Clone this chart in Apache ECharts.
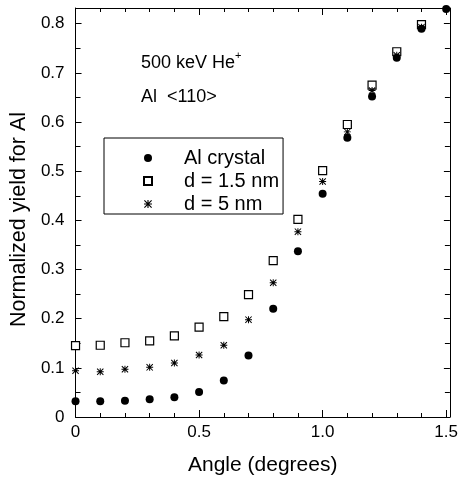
<!DOCTYPE html>
<html>
<head>
<meta charset="utf-8">
<script src="https://cdn.jsdelivr.net/npm/echarts@6/dist/echarts.min.js"></script>
<style>
  html, body { margin: 0; padding: 0; background: #fff; }
  #chart { width: 461px; height: 481px; }
</style>
</head>
<body>
<div id="chart"></div>
<script>
const angles = [0, 0.1, 0.2, 0.3, 0.4, 0.5, 0.6, 0.7, 0.8, 0.9, 1.0, 1.1, 1.2, 1.3, 1.4, 1.5]
const alCrystal = [0.032, 0.032, 0.033, 0.036, 0.040, 0.051, 0.074, 0.125, 0.220, 0.337, 0.454, 0.568, 0.652, 0.731, 0.790, 0.830]
const d15 = [0.145, 0.146, 0.151, 0.155, 0.165, 0.183, 0.204, 0.249, 0.318, 0.402, 0.501, 0.595, 0.675, 0.743, 0.798]
const d5 = [0.094, 0.092, 0.097, 0.101, 0.110, 0.126, 0.146, 0.198, 0.273, 0.377, 0.479, 0.580, 0.664, 0.736, 0.793]
const seriesNames = ['Al crystal', 'd = 1.5 nm', 'd = 5 nm']

const font = 'Liberation Sans'
// asterisk marker: vertical, horizontal and two diagonal bars
const asterisk = 'path://M4.3,0L5.7,0L5.7,10L4.3,10Z M0,4.3L10,4.3L10,5.7L0,5.7Z M0,1L1,0L10,9L9,10Z M9,0L10,1L1,10L0,9Z'

function pairs (ys) {
  return ys.map((y, i) => [angles[i], y])
}

const labelFmt = v => v === 0 ? '0' : v.toFixed(1)

const xBase = {
  type: 'value',
  min: 0,
  max: 1.515,
  interval: 0.5,
  axisLine: { show: true, onZero: false, lineStyle: { color: '#000', width: 1 } },
  axisTick: { inside: true, length: 7, lineStyle: { color: '#000' } },
  minorTick: { show: true, splitNumber: 5, length: 4, lineStyle: { color: '#000' } },
  splitLine: { show: false }
}
const yBase = {
  type: 'value',
  min: 0,
  max: 0.832,
  interval: 0.1,
  axisLine: { show: true, onZero: false, lineStyle: { color: '#000', width: 1 } },
  axisTick: { inside: true, length: 6, lineStyle: { color: '#000' } },
  minorTick: { show: true, splitNumber: 2, length: 5, lineStyle: { color: '#000' } },
  splitLine: { show: false }
}

const chart = echarts.init(document.getElementById('chart'))
chart.setOption({
  animation: false,
  textStyle: { fontFamily: font },
  grid: { left: 75, top: 8, width: 380, height: 413 },
  xAxis: [
    Object.assign({}, xBase, {
      position: 'bottom',
      name: 'Angle (degrees)',
      nameLocation: 'middle',
      nameGap: 38,
      nameTextStyle: { fontSize: 21, color: '#000', fontFamily: font },
      axisLabel: { color: '#000', fontSize: 17, margin: 7, fontFamily: font, showMaxLabel: false, formatter: labelFmt }
    }),
    Object.assign({}, xBase, { position: 'top', axisLabel: { show: false } })
  ],
  yAxis: [
    Object.assign({}, yBase, {
      position: 'left',
      name: 'Normalized yield for Al',
      nameLocation: 'middle',
      nameGap: 36,
      nameTextStyle: { fontSize: 21.5, color: '#000', fontFamily: font, padding: [0, 14, 0, 0] },
      axisLabel: { color: '#000', fontSize: 17, margin: 11, fontFamily: font, showMaxLabel: false, formatter: labelFmt }
    }),
    Object.assign({}, yBase, { position: 'right', axisLabel: { show: false } })
  ],
  legend: {
    data: seriesNames,
    orient: 'vertical',
    left: 104,
    top: 138,
    padding: [10, 4, 0, 39],
    itemGap: 3,
    itemWidth: 8,
    itemHeight: 8,
    borderColor: '#000',
    borderWidth: 1,
    borderRadius: 0,
    textStyle: { fontSize: 20, color: '#000', lineHeight: 18, padding: [0, 0, 0, 27], fontFamily: font }
  },
  graphic: [{
    type: 'text',
    left: 141,
    top: 54,
    style: { text: '500 keV He', fontSize: 18, fontFamily: font, fill: '#000' }
  }, {
    type: 'text',
    left: 235,
    top: 50,
    style: { text: '+', fontSize: 11, fontFamily: font, fill: '#000' }
  }, {
    type: 'text',
    left: 141,
    top: 88,
    style: { text: 'Al  <110>', fontSize: 18, fontFamily: font, fill: '#000' }
  }],
  series: [{
    name: seriesNames[1],
    type: 'scatter',
    data: pairs(d15),
    symbol: 'rect',
    symbolSize: 8,
    itemStyle: { color: '#fff', borderColor: '#000', borderWidth: 1.2, opacity: 1 },
    z: 2
  }, {
    name: seriesNames[2],
    type: 'scatter',
    data: pairs(d5),
    symbol: asterisk,
    symbolSize: 7,
    itemStyle: { color: '#000', opacity: 1 },
    z: 3
  }, {
    name: seriesNames[0],
    type: 'scatter',
    data: pairs(alCrystal),
    symbol: 'circle',
    symbolSize: 8,
    itemStyle: { color: '#000', opacity: 1 },
    z: 4
  }]
})
</script>
</body>
</html>
